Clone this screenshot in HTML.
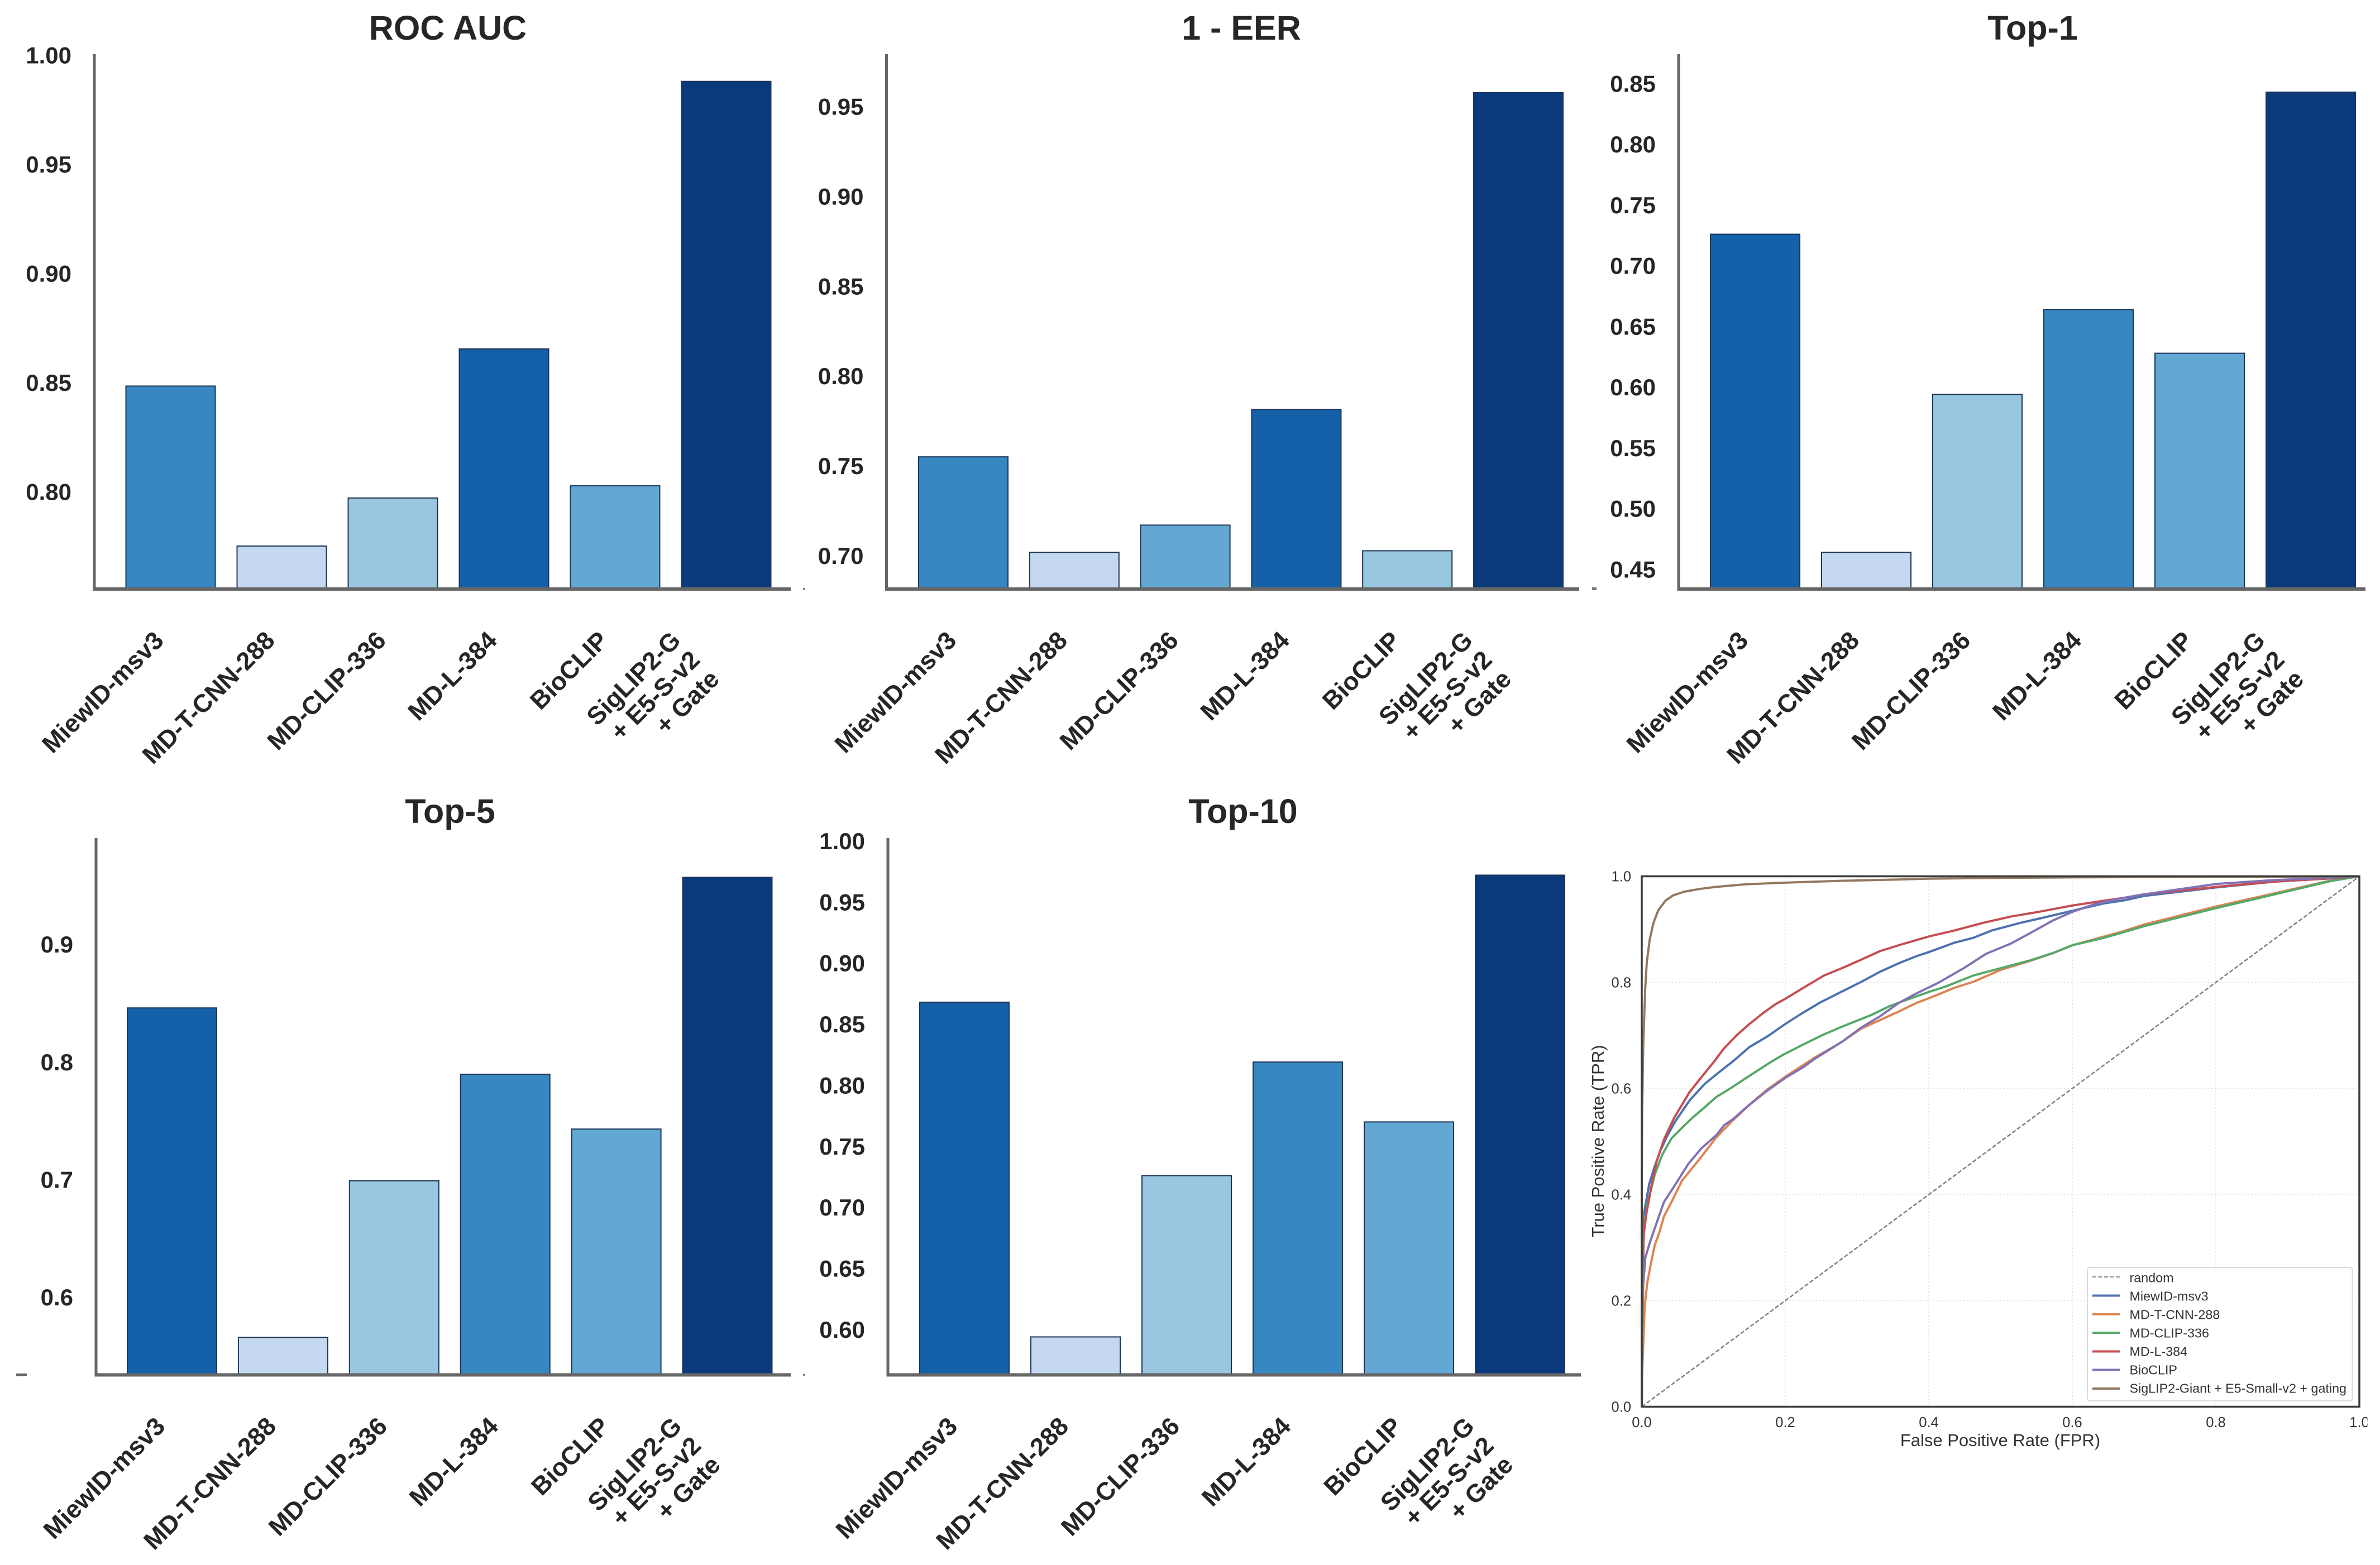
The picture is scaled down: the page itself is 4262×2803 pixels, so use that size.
<!DOCTYPE html>
<html lang="en">
<head>
<meta charset="utf-8">
<title>Model comparison metrics and ROC curves</title>
<style>
html,body{margin:0;padding:0;background:#fff;}
svg{display:block;font-family:"Liberation Sans",sans-serif;}
.title{font-size:61px;font-weight:700;fill:#262626;text-anchor:middle;}
.small{font-size:25.5px;fill:#333;}
.axt{font-size:31px;fill:#333;text-anchor:middle;}
.leg{font-size:23.3px;fill:#333;}
</style>
</head>
<body>
<svg id="fig" xmlns="http://www.w3.org/2000/svg" width="4262" height="2803" viewBox="0 0 4262 2803">
  <rect width="4262" height="2803" fill="#fff"/>
  <g id="panels"></g>
  <text class="title" x="802" y="71">ROC AUC</text>
  <text class="title" x="2223" y="71">1 - EER</text>
  <text class="title" x="3640" y="71">Top-1</text>
  <text class="title" x="806" y="1474">Top-5</text>
  <text class="title" x="2226" y="1474">Top-10</text>

  <g id="roc"></g>
  <text class="axt" x="3582" y="2590">False Positive Rate (FPR)</text>
  <text class="axt" transform="translate(2872,2044) rotate(-90)">True Positive Rate (TPR)</text>

  <g>
    <rect x="3738" y="2270" width="474.5" height="239" rx="5" fill="#fff" fill-opacity="0.85" stroke="#dcdcdc" stroke-width="2"/>
    <g><line x1="3747" x2="3796" y1="2287" y2="2287" stroke="#999" stroke-width="2.5" stroke-dasharray="7 3.5"/><text class="leg" x="3813.5" y="2296.5">random</text></g>
    <g><line x1="3747" x2="3796" y1="2320.5" y2="2320.5" stroke="#4c72b0" stroke-width="4"/><text class="leg" x="3813.5" y="2329.5">MiewID-msv3</text></g>
    <g><line x1="3747" x2="3796" y1="2354" y2="2354" stroke="#dd8452" stroke-width="4"/><text class="leg" x="3813.5" y="2362.5">MD-T-CNN-288</text></g>
    <g><line x1="3747" x2="3796" y1="2387" y2="2387" stroke="#55a868" stroke-width="4"/><text class="leg" x="3813.5" y="2395.5">MD-CLIP-336</text></g>
    <g><line x1="3747" x2="3796" y1="2420.5" y2="2420.5" stroke="#c44e52" stroke-width="4"/><text class="leg" x="3813.5" y="2428.5">MD-L-384</text></g>
    <g><line x1="3747" x2="3796" y1="2453.5" y2="2453.5" stroke="#8172b3" stroke-width="4"/><text class="leg" x="3813.5" y="2461.5">BioCLIP</text></g>
    <g><line x1="3747" x2="3796" y1="2487" y2="2487" stroke="#937860" stroke-width="4"/><text class="leg" x="3813.5" y="2494.5">SigLIP2-Giant + E5-Small-v2 + gating</text></g>
  </g>

  <rect x="4239.5" y="2530" width="22.5" height="34" fill="#fff"/>

  <g>
    <rect x="1438" y="1053" width="3" height="4" fill="#777"/>
    <rect x="2851" y="1052" width="8" height="5" fill="#777"/>
    <rect x="29" y="2460" width="19" height="5" fill="#666"/>
    <rect x="1438" y="2461" width="3" height="3" fill="#777"/>
  </g>
</svg>

<script>
// ---------- bar chart data ----------
const categories = ["MiewID-msv3", "MD-T-CNN-288", "MD-CLIP-336", "MD-L-384", "BioCLIP", "SigLIP2-G\n+ E5-S-v2\n+ Gate"];
const rocAucValues = [0.849, 0.7757, 0.7977, 0.866, 0.8033, 0.9886];
const eerValues = [0.7557, 0.7025, 0.7177, 0.782, 0.7034, 0.9584];
const top1Values = [0.727, 0.465, 0.595, 0.665, 0.629, 0.844];
const top5Values = [0.847, 0.5669, 0.70, 0.7906, 0.744, 0.958];
const top10Values = [0.869, 0.595, 0.727, 0.82, 0.771, 0.973];
const rocAucTicks = ["0.80", "0.85", "0.90", "0.95", "1.00"];
const eerTicks = ["0.70", "0.75", "0.80", "0.85", "0.90", "0.95"];
const top1Ticks = ["0.45", "0.50", "0.55", "0.60", "0.65", "0.70", "0.75", "0.80", "0.85"];
const top5Ticks = ["0.6", "0.7", "0.8", "0.9"];
const top10Ticks = ["0.60", "0.65", "0.70", "0.75", "0.80", "0.85", "0.90", "0.95", "1.00"];

// ---------- ROC curve data ----------
const rocTicks = ["0.0", "0.2", "0.4", "0.6", "0.8", "1.0"];
const randomFpr = [0, 1];
const randomTpr = [0, 1];
const miewFpr = [0, 0.001, 0.002, 0.0104, 0.018, 0.026, 0.036, 0.0467, 0.067, 0.088, 0.109, 0.127, 0.15, 0.176, 0.2, 0.2226, 0.2485, 0.28, 0.306, 0.332, 0.358, 0.384, 0.4, 0.436, 0.462, 0.488, 0.527, 0.553, 0.6, 0.644, 0.67, 0.7, 0.8, 0.882, 0.96, 1];
const miewTpr = [0, 0.28, 0.357, 0.42, 0.453, 0.483, 0.512, 0.538, 0.578, 0.609, 0.632, 0.651, 0.678, 0.699, 0.7216, 0.741, 0.762, 0.7835, 0.801, 0.82, 0.836, 0.85, 0.857, 0.875, 0.884, 0.898, 0.912, 0.92, 0.935, 0.949, 0.954, 0.963, 0.979, 0.99, 0.996, 1];
const cnnFpr = [0, 0.0005, 0.002, 0.004, 0.0078, 0.013, 0.018, 0.0246, 0.031, 0.0415, 0.056, 0.08, 0.104, 0.127, 0.153, 0.174, 0.2, 0.226, 0.2407, 0.2667, 0.28, 0.306, 0.332, 0.358, 0.384, 0.4, 0.436, 0.462, 0.501, 0.54, 0.5735, 0.6, 0.67, 0.7, 0.8, 0.882, 0.96, 1];
const cnnTpr = [0, 0.06, 0.117, 0.188, 0.2345, 0.272, 0.304, 0.329, 0.359, 0.386, 0.426, 0.466, 0.508, 0.54, 0.573, 0.597, 0.622, 0.645, 0.658, 0.678, 0.689, 0.713, 0.729, 0.745, 0.762, 0.77, 0.79, 0.801, 0.824, 0.84, 0.8555, 0.87, 0.896, 0.909, 0.943, 0.968, 0.992, 1];
const clipFpr = [0, 0.001, 0.0026, 0.0078, 0.018, 0.0285, 0.0415, 0.057, 0.07, 0.088, 0.104, 0.122, 0.148, 0.179, 0.197, 0.228, 0.254, 0.28, 0.319, 0.345, 0.371, 0.4, 0.423, 0.462, 0.501, 0.54, 0.5735, 0.6, 0.644, 0.67, 0.7, 0.8, 0.882, 0.96, 1];
const clipTpr = [0, 0.22, 0.327, 0.382, 0.437, 0.475, 0.506, 0.527, 0.544, 0.565, 0.584, 0.599, 0.622, 0.649, 0.6636, 0.685, 0.702, 0.717, 0.738, 0.755, 0.768, 0.782, 0.792, 0.813, 0.827, 0.841, 0.8555, 0.87, 0.884, 0.894, 0.906, 0.94, 0.966, 0.991, 1];
const mdlFpr = [0, 0.001, 0.0026, 0.0065, 0.014, 0.0207, 0.031, 0.045, 0.066, 0.08, 0.101, 0.1136, 0.132, 0.15, 0.168, 0.186, 0.2, 0.228, 0.254, 0.28, 0.306, 0.332, 0.358, 0.4, 0.436, 0.475, 0.514, 0.553, 0.6, 0.644, 0.67, 0.7, 0.8, 0.882, 0.96, 1];
const mdlTpr = [0, 0.2, 0.323, 0.365, 0.42, 0.462, 0.504, 0.544, 0.592, 0.616, 0.651, 0.674, 0.70, 0.7216, 0.741, 0.7585, 0.769, 0.792, 0.813, 0.8274, 0.843, 0.859, 0.87, 0.8865, 0.898, 0.912, 0.924, 0.933, 0.945, 0.954, 0.959, 0.966, 0.98, 0.99, 0.996, 1];
const bioFpr = [0, 0.0005, 0.002, 0.005, 0.0104, 0.018, 0.031, 0.044, 0.065, 0.083, 0.104, 0.115, 0.127, 0.148, 0.174, 0.2, 0.226, 0.24, 0.28, 0.306, 0.332, 0.358, 0.384, 0.413, 0.449, 0.48, 0.514, 0.54, 0.5735, 0.6, 0.63, 0.67, 0.7, 0.8, 0.882, 0.96, 1];
const bioTpr = [0, 0.12, 0.23, 0.281, 0.306, 0.336, 0.386, 0.413, 0.458, 0.487, 0.512, 0.531, 0.542, 0.567, 0.595, 0.62, 0.641, 0.655, 0.689, 0.715, 0.736, 0.761, 0.78, 0.799, 0.827, 0.854, 0.873, 0.892, 0.917, 0.933, 0.947, 0.959, 0.966, 0.9855, 0.993, 0.997, 1];
const sigFpr = [0, 0, 0.0005, 0.002, 0.0047, 0.007, 0.011, 0.016, 0.023, 0.033, 0.0436, 0.059, 0.08, 0.103, 0.145, 0.2, 0.28, 0.357, 0.4, 0.5, 0.6, 0.8, 1];
const sigTpr = [0, 0.4, 0.55, 0.68, 0.785, 0.8375, 0.88, 0.911, 0.936, 0.954, 0.964, 0.971, 0.976, 0.98, 0.985, 0.988, 0.9916, 0.994, 0.9955, 0.997, 0.998, 0.999, 1];

const NS = "http://www.w3.org/2000/svg";
const shades = { darkest: "#0a3a7b", dark: "#1460a9", mid: "#3787c0", soft: "#63a7d3", pale: "#9ac7e0", lightest: "#c4d9ef" };
const TEXT = "#262626";

function make(parent, tag, attrs, txt) {
  const el = document.createElementNS(NS, tag);
  for (const k in attrs) el.setAttribute(k, attrs[k]);
  if (txt !== undefined) el.textContent = txt;
  parent.appendChild(el);
  return el;
}

const measureCtx = document.createElement("canvas").getContext("2d");
const panelRoot = document.getElementById("panels");

function drawBarPanel(name, values, ticks, colors, frame) {
  const g = make(panelRoot, "g", {});
  
  

  const yScale = v => frame.bottom - (v - frame.ymin) / (frame.ymax - frame.ymin) * (frame.bottom - frame.top);

  values.forEach((v, i) => {
    const x = frame.barLeft + i * frame.pitch;
    const bar = make(g, "rect", {
      x: x, y: yScale(v), width: frame.barWidth, height: frame.bottom - yScale(v),
      fill: colors[i], stroke: "#1d3557", "stroke-width": 2
    });
    
    
  });

  ticks.forEach(t => {
    const lab = make(g, "text", {
      x: frame.left - 41, y: yScale(parseFloat(t)) + 12.5,
      "text-anchor": "end", "font-size": 42, "font-weight": 700, fill: TEXT
    }, t);
    
    
  });

  const ySpine = make(g, "line", { x1: frame.left, x2: frame.left, y1: frame.top - 3, y2: frame.bottom + 3, stroke: "#666", "stroke-width": 5 });
  
  
  const xSpine = make(g, "line", { x1: frame.left - 2, x2: frame.right, y1: frame.bottom, y2: frame.bottom, stroke: "#666", "stroke-width": 6 });
  
  

  const fs = 45, lh = 49;
  measureCtx.font = "700 " + fs + "px 'Liberation Sans'";
  categories.forEach((c, i) => {
    const lines = c.split("\n");
    const W = Math.max.apply(null, lines.map(l => measureCtx.measureText(l).width));
    const H = lines.length * lh;
    const e = (W + H) / 2 * Math.SQRT1_2;
    const xa = frame.barLeft + i * frame.pitch + frame.barWidth / 2 - 4;
    const ya = frame.bottom + 66;
    const grp = make(g, "g", { transform: "translate(" + (xa - e) + "," + (ya + e) + ") rotate(-45)" });
    
    
    lines.forEach((l, j) => {
      make(grp, "text", {
        x: W / 2, y: (j - (lines.length - 1) / 2) * lh + fs * 0.36,
        "text-anchor": "end", "font-size": fs, "font-weight": 700, fill: TEXT
      }, l);
    });
  });
}

const s = shades;
drawBarPanel("roc-auc", rocAucValues, rocAucTicks, [s.mid, s.lightest, s.pale, s.dark, s.soft, s.darkest],
  { left: 169, right: 1416, top: 100, bottom: 1055, ymin: 0.756, ymax: 1.0003, barLeft: 225.5, pitch: 199, barWidth: 160 });
drawBarPanel("one-minus-eer", eerValues, eerTicks, [s.mid, s.lightest, s.soft, s.dark, s.pale, s.darkest],
  { left: 1587.5, right: 2828, top: 100, bottom: 1055, ymin: 0.6821, ymax: 0.9789, barLeft: 1645, pitch: 198.8, barWidth: 160 });
drawBarPanel("top-1", top1Values, top1Ticks, [s.dark, s.lightest, s.pale, s.mid, s.soft, s.darkest],
  { left: 3006, right: 4236, top: 100, bottom: 1055, ymin: 0.4348, ymax: 0.8739, barLeft: 3063, pitch: 199, barWidth: 160 });
drawBarPanel("top-5", top5Values, top5Ticks, [s.dark, s.lightest, s.pale, s.mid, s.soft, s.darkest],
  { left: 172, right: 1416, top: 1504, bottom: 2462.5, ymin: 0.535, ymax: 0.99, barLeft: 228, pitch: 198.9, barWidth: 160 });
drawBarPanel("top-10", top10Values, top10Ticks, [s.dark, s.lightest, s.pale, s.mid, s.soft, s.darkest],
  { left: 1590, right: 2831, top: 1504, bottom: 2462.5, ymin: 0.5639, ymax: 1.002, barLeft: 1647, pitch: 199, barWidth: 160 });

// ---------- ROC chart ----------
const roc = document.getElementById("roc");
const rocLeft = 2940, rocRight = 4225, rocTop = 1569.5, rocBottom = 2519.5;
const fx = v => rocLeft + v * (rocRight - rocLeft);
const fy = v => rocBottom - v * (rocBottom - rocTop);

rocTicks.forEach(t => {
  const v = parseFloat(t);
  if (v > 0 && v < 1) {
    const gv = make(roc, "line", { x1: fx(v), x2: fx(v), y1: rocTop, y2: rocBottom, stroke: "#e0e0e0", "stroke-width": 2, "stroke-dasharray": "2 4" });
    
    
    const gh = make(roc, "line", { x1: rocLeft, x2: rocRight, y1: fy(v), y2: fy(v), stroke: "#e0e0e0", "stroke-width": 2, "stroke-dasharray": "2 4" });
    
    
  }
  const xl = make(roc, "text", { class: "small", x: fx(v), y: 2556, "text-anchor": "middle" }, t);
  
  
  const yl = make(roc, "text", { class: "small", x: 2921, y: fy(v) + 9, "text-anchor": "end" }, t);
  
  
});

function drawCurve(name, xs, ys, color, width, dash) {
  const pts = xs.map((x, i) => fx(x).toFixed(1) + "," + fy(ys[i]).toFixed(1)).join(" ");
  const attrs = { points: pts, fill: "none", stroke: color, "stroke-width": width, "stroke-linejoin": "round" };
  if (dash) attrs["stroke-dasharray"] = dash;
  const line = make(roc, "polyline", attrs);
  
  
}
drawCurve("random", randomFpr, randomTpr, "#808080", 2.5, "7.5 3.5");
drawCurve("miewid", miewFpr, miewTpr, "#4c72b0", 4);
drawCurve("md-t-cnn", cnnFpr, cnnTpr, "#dd8452", 4);
drawCurve("md-clip", clipFpr, clipTpr, "#55a868", 4);
drawCurve("md-l", mdlFpr, mdlTpr, "#c44e52", 4);
drawCurve("bioclip", bioFpr, bioTpr, "#8172b3", 4);
drawCurve("siglip", sigFpr, sigTpr, "#937860", 4);

const rocFrame = make(roc, "rect", { x: rocLeft, y: rocTop, width: rocRight - rocLeft, height: rocBottom - rocTop, fill: "none", stroke: "#3a3a3a", "stroke-width": 3.5 });


</script>
</body>
</html>
